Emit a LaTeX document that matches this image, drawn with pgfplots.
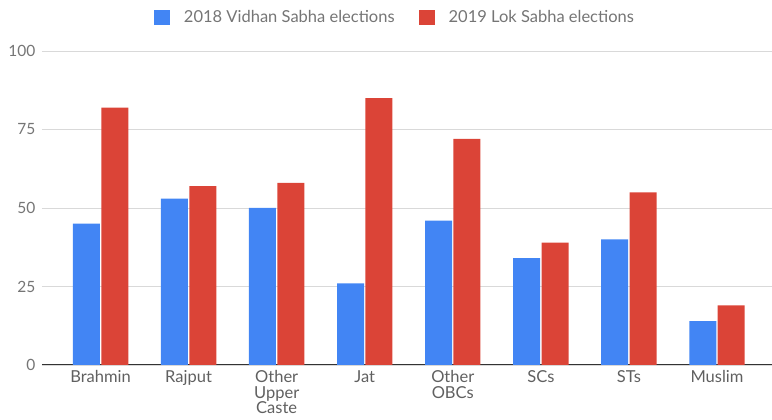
\documentclass[border=0pt]{standalone}
\usepackage{pgfplots}
\pgfplotsset{compat=1.18}
\usepackage{fontspec}
\setmainfont{Lato}
\definecolor{gblue}{HTML}{4285F4}
\definecolor{gred}{HTML}{DB4437}
\definecolor{tgray}{HTML}{757575}
\definecolor{lgray}{HTML}{606060}
\definecolor{axgray}{HTML}{333333}
\definecolor{grid}{HTML}{D9D9D9}
\begin{document}
\begin{tikzpicture}[x=1pt,y=1pt]
\path[use as bounding box] (0,0) rectangle (772,420);
\begin{axis}[
  at={(42pt,55pt)}, anchor=south west,
  scale only axis, width=730pt, height=314pt,
  xmin=-0.665, xmax=7.625, ymin=0, ymax=100,
  ytick={0,25,50,75,100},
  xtick={0,...,7},
  xticklabels={Brahmin,Rajput,{Other\\Upper\\Caste},Jat,{Other\\OBCs},SCs,STs,Muslim},
  xticklabel style={align=center, font=\fontsize{16.5}{15.5}\selectfont, text=lgray, yshift=-4.5pt, inner sep=1pt},
  yticklabel style={font=\fontsize{15.5}{16}\selectfont, text=tgray, xshift=-3pt},
  /pgf/number format/assume math mode=true,
  major tick length=0pt,
  xmajorgrids=false, ymajorgrids=true, grid style={draw=grid, line width=0.8pt},
  axis x line*=bottom, axis y line*=left,
  y axis line style={draw=none},
  x axis line style={draw=axgray, line width=1pt, -},
  ybar, bar width=27pt,
  legend style={at={(0.1534,1.0)}, anchor=west, yshift=33.5pt, draw=none, fill=none,
    inner sep=0pt, outer sep=0pt,
    legend columns=2, font=\fontsize{16.5}{16}\selectfont, text=tgray,
    /tikz/every odd column/.append style={column sep=12pt},
    /tikz/every even column/.append style={column sep=22pt}},
  legend cell align=left,
  legend image code/.code={\fill[#1] (0pt,-7.5pt) rectangle (16pt,7.5pt);},
  clip=false,
]
\addplot[draw=none, fill=gblue, bar shift=-14.2pt] coordinates {(0,45) (1,53) (2,50) (3,26) (4,46) (5,34) (6,40) (7,14)};
\addplot[draw=none, fill=gred, bar shift=14.2pt] coordinates {(0,82) (1,57) (2,58) (3,85) (4,72) (5,39) (6,55) (7,19)};
\legend{2018 Vidhan Sabha elections, 2019 Lok Sabha elections}
\end{axis}
\end{tikzpicture}
\end{document}
